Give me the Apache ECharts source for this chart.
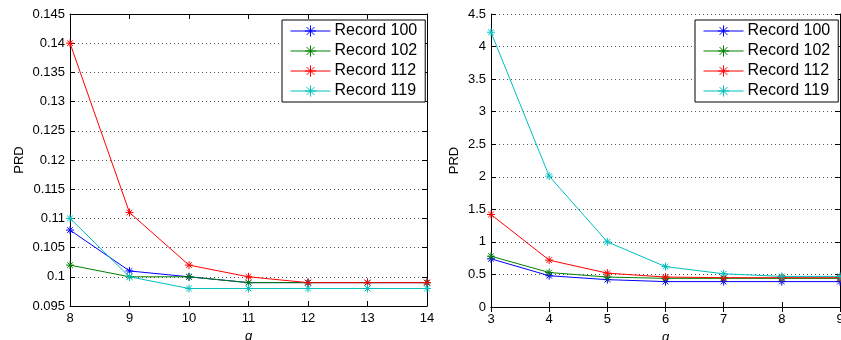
<!DOCTYPE html>
<html>
<head>
<meta charset="utf-8">
<script src="https://cdn.jsdelivr.net/npm/echarts@6/dist/echarts.min.js"></script>
<style>
  html, body { margin: 0; padding: 0; background: #fff; }
  #chart { width: 841px; height: 340px; }
</style>
</head>
<body>
<div id="chart"></div>
<script>
// PRD vs q (left) and PRD vs a (right)
const names = ['Record 100', 'Record 102', 'Record 112', 'Record 119'];
const colors = ['#0000ff', '#008000', '#ff0000', '#00bfbf'];

const qValues = [8, 9, 10, 11, 12, 13, 14];
const prdQ100 = [0.108, 0.101, 0.100, 0.099, 0.099, 0.099, 0.099];
const prdQ102 = [0.102, 0.100, 0.100, 0.099, 0.099, 0.099, 0.099];
const prdQ112 = [0.140, 0.111, 0.102, 0.100, 0.099, 0.099, 0.099];
const prdQ119 = [0.110, 0.100, 0.098, 0.098, 0.098, 0.098, 0.098];

const aValues = [3, 4, 5, 6, 7, 8, 9];
const prdA100 = [0.74, 0.48, 0.42, 0.39, 0.39, 0.39, 0.39];
const prdA102 = [0.78, 0.53, 0.46, 0.44, 0.44, 0.44, 0.44];
const prdA112 = [1.42, 0.72, 0.52, 0.46, 0.45, 0.45, 0.45];
const prdA119 = [4.22, 2.01, 1.00, 0.62, 0.51, 0.47, 0.47];

const star = 'path://M0,5L10,5M5,0L5,10M1.5,1.5L8.5,8.5M8.5,1.5L1.5,8.5';
const font = 'Liberation Sans, Arial, sans-serif';

const pairs = (xs, ys) => xs.map((x, i) => [x, ys[i]]);

const mkSeries = (idx, xs, lists) => lists.map((ys, i) => ({
    name: names[i],
    type: 'line',
    xAxisIndex: idx * 2,
    yAxisIndex: idx * 2,
    data: pairs(xs, ys),
    symbol: star,
    symbolSize: 8,
    color: colors[i],
    lineStyle: { width: 1, color: colors[i] },
    itemStyle: { color: colors[i], borderColor: colors[i], borderWidth: 1 },
    emphasis: { disabled: true },
    animation: false
}));

const xAxisPair = (grid, min, max) => [
    {
        type: 'value', gridIndex: grid, min: min, max: max, interval: 1,
        name: 'q', nameLocation: 'middle', nameGap: 22,
        nameTextStyle: { fontFamily: font, fontSize: 13, fontStyle: 'italic', color: '#000' },
        axisLine: { onZero: false, lineStyle: { color: '#000', width: 1 } },
        axisTick: { inside: true, length: 5, lineStyle: { color: '#000' } },
        axisLabel: { fontFamily: font, fontSize: 13, color: '#000', margin: 6 },
        splitLine: { show: false }
    },
    {
        type: 'value', gridIndex: grid, position: 'top', min: min, max: max, interval: 1,
        axisLine: { lineStyle: { color: '#000', width: 1 } },
        axisTick: { inside: true, length: 5, lineStyle: { color: '#000' } },
        axisLabel: { show: false },
        splitLine: { show: false }
    }
];

const yAxisPair = (grid, min, max, step) => [
    {
        type: 'value', gridIndex: grid, min: min, max: max, interval: step,
        name: 'PRD', nameLocation: 'middle', nameGap: grid === 0 ? 44 : 30, nameRotate: 90,
        nameTextStyle: { fontFamily: font, fontSize: 13, color: '#000' },
        axisLine: { onZero: false, lineStyle: { color: '#000', width: 1 } },
        axisTick: { inside: true, length: 5, lineStyle: { color: '#000' } },
        axisLabel: { fontFamily: font, fontSize: 13, color: '#000', margin: 5 },
        splitLine: { show: true, lineStyle: { color: '#555', type: [1, 3], width: 1 } }
    },
    {
        type: 'value', gridIndex: grid, position: 'right', min: min, max: max, interval: step,
        axisLine: { lineStyle: { color: '#000', width: 1 } },
        axisTick: { inside: true, length: 5, lineStyle: { color: '#000' } },
        axisLabel: { show: false },
        splitLine: { show: false }
    }
];

const mkLegend = (left) => ({
    orient: 'vertical',
    left: left,
    top: 20,
    data: names,
    backgroundColor: '#fff',
    borderColor: '#000',
    borderWidth: 1,
    borderRadius: 0,
    padding: [3, 8, 3, 8],
    itemWidth: 40,
    itemHeight: 14,
    itemGap: 4,
    selectedMode: false,
    itemStyle: { borderWidth: 1 },
    lineStyle: { width: 1 },
    textStyle: { fontFamily: font, fontSize: 16, color: '#000', padding: [0, 0, 0, -1] }
});

const myChart = echarts.init(document.getElementById('chart'), null, { renderer: 'canvas' });
const option = {
    animation: false,
    backgroundColor: '#fff',
    grid: [
        { left: 70, top: 14, width: 357, height: 292, outerBoundsMode: 'none' },
        { left: 491, top: 14, width: 349, height: 293, outerBoundsMode: 'none' }
    ],
    xAxis: [...xAxisPair(0, 8, 14), ...xAxisPair(1, 3, 9)],
    yAxis: [...yAxisPair(0, 0.095, 0.145, 0.005), ...yAxisPair(1, 0, 4.5, 0.5)],
    legend: [mkLegend(282), mkLegend(695)],
    series: [
        ...mkSeries(0, qValues, [prdQ100, prdQ102, prdQ112, prdQ119]),
        ...mkSeries(1, aValues, [prdA100, prdA102, prdA112, prdA119])
    ]
};
myChart.setOption(option);
</script>
</body>
</html>
